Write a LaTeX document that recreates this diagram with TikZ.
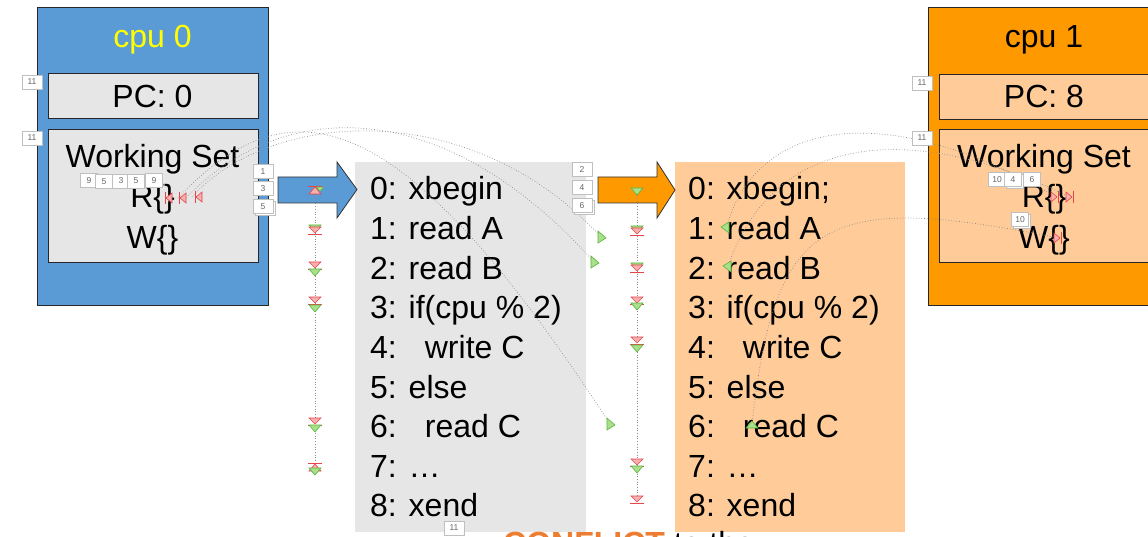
\documentclass[tikz,border=0pt]{standalone}
\usepackage{fontspec}
\setmainfont{Liberation Sans}
\definecolor{blue0}{HTML}{5B9BD5}
\definecolor{org}{HTML}{FF9900}
\definecolor{peach}{HTML}{FFCC99}
\definecolor{lgray}{HTML}{E6E6E6}
\definecolor{yel}{HTML}{FFFF00}
\definecolor{gfill}{HTML}{A8E08C}
\definecolor{gline}{HTML}{5DB43C}
\definecolor{rfill}{HTML}{F7B0B0}
\definecolor{rline}{HTML}{E8454B}
\definecolor{conf}{HTML}{ED7D31}
\begin{document}
\begin{tikzpicture}[x=1pt,y=-1pt,
  big/.style={font=\fontsize{32}{36}\selectfont, text=black, inner sep=0pt, anchor=base},
  code/.style={big, anchor=base west},
  cpubox/.style={draw=black!85, line width=1pt, anchor=north west},
  inbox/.style={draw=black!85, line width=1.2pt, anchor=north west},
  tag/.style={draw=black!25, fill=white, font=\fontsize{8.5}{9}\selectfont, text=black!60, inner sep=0pt, minimum width=20pt, minimum height=14pt},
  stag/.style={tag, minimum width=17pt},
  mpath/.style={draw=black!45, dotted, line width=0.7pt},
  gtri/.pic={\filldraw[fill=gfill,draw=gline,line width=0.6pt] (-6,-3)--(6,-3)--(0,4)--cycle;},
  gright/.pic={\filldraw[fill=gfill,draw=gline,line width=0.6pt] (-3,-6)--(-3,6)--(5,1)--cycle;},
  gleft/.pic={\filldraw[fill=gfill,draw=gline,line width=0.6pt] (3,-6)--(3,5)--(-5,-1)--cycle;},
  gup/.pic={\filldraw[fill=gfill,draw=gline,line width=0.6pt] (-6,3)--(6,3)--(0,-4)--cycle;},
  rtri/.pic={\filldraw[fill=rfill,draw=rline,line width=0.6pt] (-6,-4)--(6,-4)--(0,2)--cycle; \draw[rline,line width=0.8pt] (-7,3)--(7,3);},
  rup/.pic={\filldraw[fill=rfill,draw=rline,line width=0.6pt] (-6,4)--(6,4)--(0,-3)--cycle; \draw[rline,line width=0.8pt] (-7,-4)--(7,-4);},
  rleft/.pic={\filldraw[fill=rfill,draw=rline,line width=0.6pt] (4,-5)--(4,5)--(-2,0)--cycle; \draw[rline,line width=0.8pt] (-3,-6)--(-3,6);},
  rright/.pic={\filldraw[fill=rfill,draw=rline,line width=0.6pt] (-4,-5)--(-4,5)--(2,0)--cycle; \draw[rline,line width=0.8pt] (3,-6)--(3,6);},
]
\path[use as bounding box] (0,0) rectangle (1148,537);
\clip (0,0) rectangle (1148,537);
\fill[white] (0,0) rectangle (1148,537);

% ---------- cpu 0 ----------
\node[cpubox, fill=blue0, minimum width=231pt, minimum height=298pt] (cpu0) at (37,7) {};
\node[big, text=yel] (cpu0t) at (152.5,47.5) {cpu 0};
\node[inbox, fill=lgray, minimum width=210pt, minimum height=45pt] (pc0) at (48,73) {};
\node[big] (pc0t) at (152.5,107.5) {PC: 0};
\node[inbox, fill=lgray, minimum width=210pt, minimum height=133pt] (ws0) at (48,129) {};
\node[big] (ws0t) at (152.5,168) {Working Set};
\node[big] (r0) at (152.5,208) {R\{\}};
\node[big] (w0) at (152.5,249) {W\{\}};

% ---------- cpu 1 ----------
\node[cpubox, fill=org, minimum width=240pt, minimum height=298pt] (cpu1) at (928,7) {};
\node[big] (cpu1t) at (1044,47.5) {cpu 1};
\node[inbox, fill=peach, minimum width=230pt, minimum height=45pt] (pc1) at (939,74) {};
\node[big] (pc1t) at (1044,107.5) {PC: 8};
\node[inbox, fill=peach, minimum width=230pt, minimum height=133pt] (ws1) at (939,129) {};
\node[big] (ws1t) at (1044,167.5) {Working Set};
\node[big] (r1) at (1044,207.5) {R\{\}};
\node[big] (w1) at (1044,248.5) {W\{\}};

% ---------- code boxes ----------
\node[fill=lgray, anchor=north west, minimum width=231pt, minimum height=370pt, inner sep=0pt] (code0) at (355,162) {};
\node[fill=peach, anchor=north west, minimum width=230pt, minimum height=370pt, inner sep=0pt] (code1) at (675,162) {};

% block arrows
\draw[fill=blue0, draw=black!80, line width=0.8pt] (278,177) -- (337,177) -- (337,162) -- (357,189.5) -- (337,218) -- (337,203) -- (278,203) -- cycle;
\draw[fill=org, draw=black!80, line width=0.8pt] (598,177) -- (657,177) -- (657,162) -- (675,190) -- (657,218) -- (657,203) -- (598,203) -- cycle;

% code lines
\node[code] (g0) at (370,200) {0: xbegin};
\node[code] (o0) at (688,200) {0: xbegin;};
\foreach \i/\t in {1/{1: read A},2/{2: read B},3/{3: if(cpu \% 2)},4/{4:\hspace{28pt}write C},5/{5: else},6/{6:\hspace{28pt}read C},7/{7: \ldots},8/{8: xend}}{
  \node[code] (g\i) at (370,{200+39.6*\i}) {\t};
  \node[code] (o\i) at (688,{200+39.6*\i}) {\t};
}

% bottom cut-off text
\node[big, anchor=base west] (conflict) at (503,554) {\textcolor{conf}{\bfseries CONFLICT} to the};

% ---------- animation motion paths ----------
\draw[mpath] (315,190) -- (315,470);
\draw[mpath] (637,190) -- (637,500);
\draw[mpath] (192,197) .. controls (270,110) and (470,95) .. (601,237);
\draw[mpath] (186,198) .. controls (280,100) and (440,90) .. (594,262);
\draw[mpath] (178,198) .. controls (290,80) and (400,100) .. (610,424);
\draw[mpath] (726,228) .. controls (760,110) and (900,105) .. (1056,197);
\draw[mpath] (728,267) .. controls (770,140) and (900,115) .. (1070,197);
\draw[mpath] (752,424) .. controls (775,220) and (820,190) .. (1058,238);

% markers, left column
\pic at (315,190) {rup};
\pic[scale=0.6] at (320,189) {gtri};
\pic at (315,228) {gtri};
\pic at (315,231) {rtri};
\pic at (315,266) {rtri};
\pic at (315,272) {gtri};
\pic at (315,301) {rtri};
\pic at (315,308) {gtri};
\pic at (315,422) {rtri};
\pic at (315,428) {gtri};
\pic at (315,467) {rup};
\pic at (315,471) {gtri};
% markers, right column
\pic at (637,191) {gtri};
\pic at (637,229) {gtri};
\pic at (637,232) {rtri};
\pic at (637,266) {gtri};
\pic at (637,269) {rtri};
\pic at (637,301) {rtri};
\pic at (637,306) {gtri};
\pic at (637,341) {rtri};
\pic at (637,348) {gtri};
\pic at (637,463) {rtri};
\pic at (637,469) {gtri};
\pic at (637,500) {rtri};
% path end markers
\pic at (601,237) {gright};
\pic at (594,262) {gright};
\pic at (610,424) {gright};
\pic at (726,228) {gleft};
\pic at (728,267) {gleft};
\pic at (752,425) {gup};
\pic at (168,198) {rleft};
\pic at (182,198) {rleft};
\pic at (198,197) {rleft};
\pic at (1055,197) {rright};
\pic at (1070,197) {rright};
\pic at (1058,238) {rright};

% ---------- animation tags ----------
\node[tag] (t11a) at (32,82) {11};
\node[tag] (t11b) at (32,138) {11};
\node[tag] (t1) at (263,171.5) {1};
\node[tag] (t3) at (263,188.5) {3};
\node[tag] at (265,208.5) {};
\node[tag] (t5) at (263,206.5) {5};
\node[tag] (t2) at (582,169.5) {2};
\node[tag] (t4) at (582,187.5) {4};
\node[tag] at (584,207.5) {};
\node[tag] (t6) at (582,205.5) {6};
\node[tag] (t11c) at (922,83) {11};
\node[tag] (t11d) at (922,138) {11};
\node[tag] (t11e) at (454,528) {11};
\node[stag] (ta) at (89,180.5) {9};
\node[stag] (tb) at (104,181.5) {5};
\node[stag] (tc) at (121,181) {3};
\node[stag] (td) at (136,181) {5};
\node[stag] (te) at (154,180.5) {9};
\node[stag] (tf) at (997,179.5) {10};
\node[stag] at (1015,181) {};
\node[stag] (tg) at (1013,179.5) {4};
\node[stag] (th) at (1032,179.5) {6};
\node[stag] at (1022,221) {};
\node[stag] (ti) at (1020,219.5) {10};
\end{tikzpicture}
\end{document}
